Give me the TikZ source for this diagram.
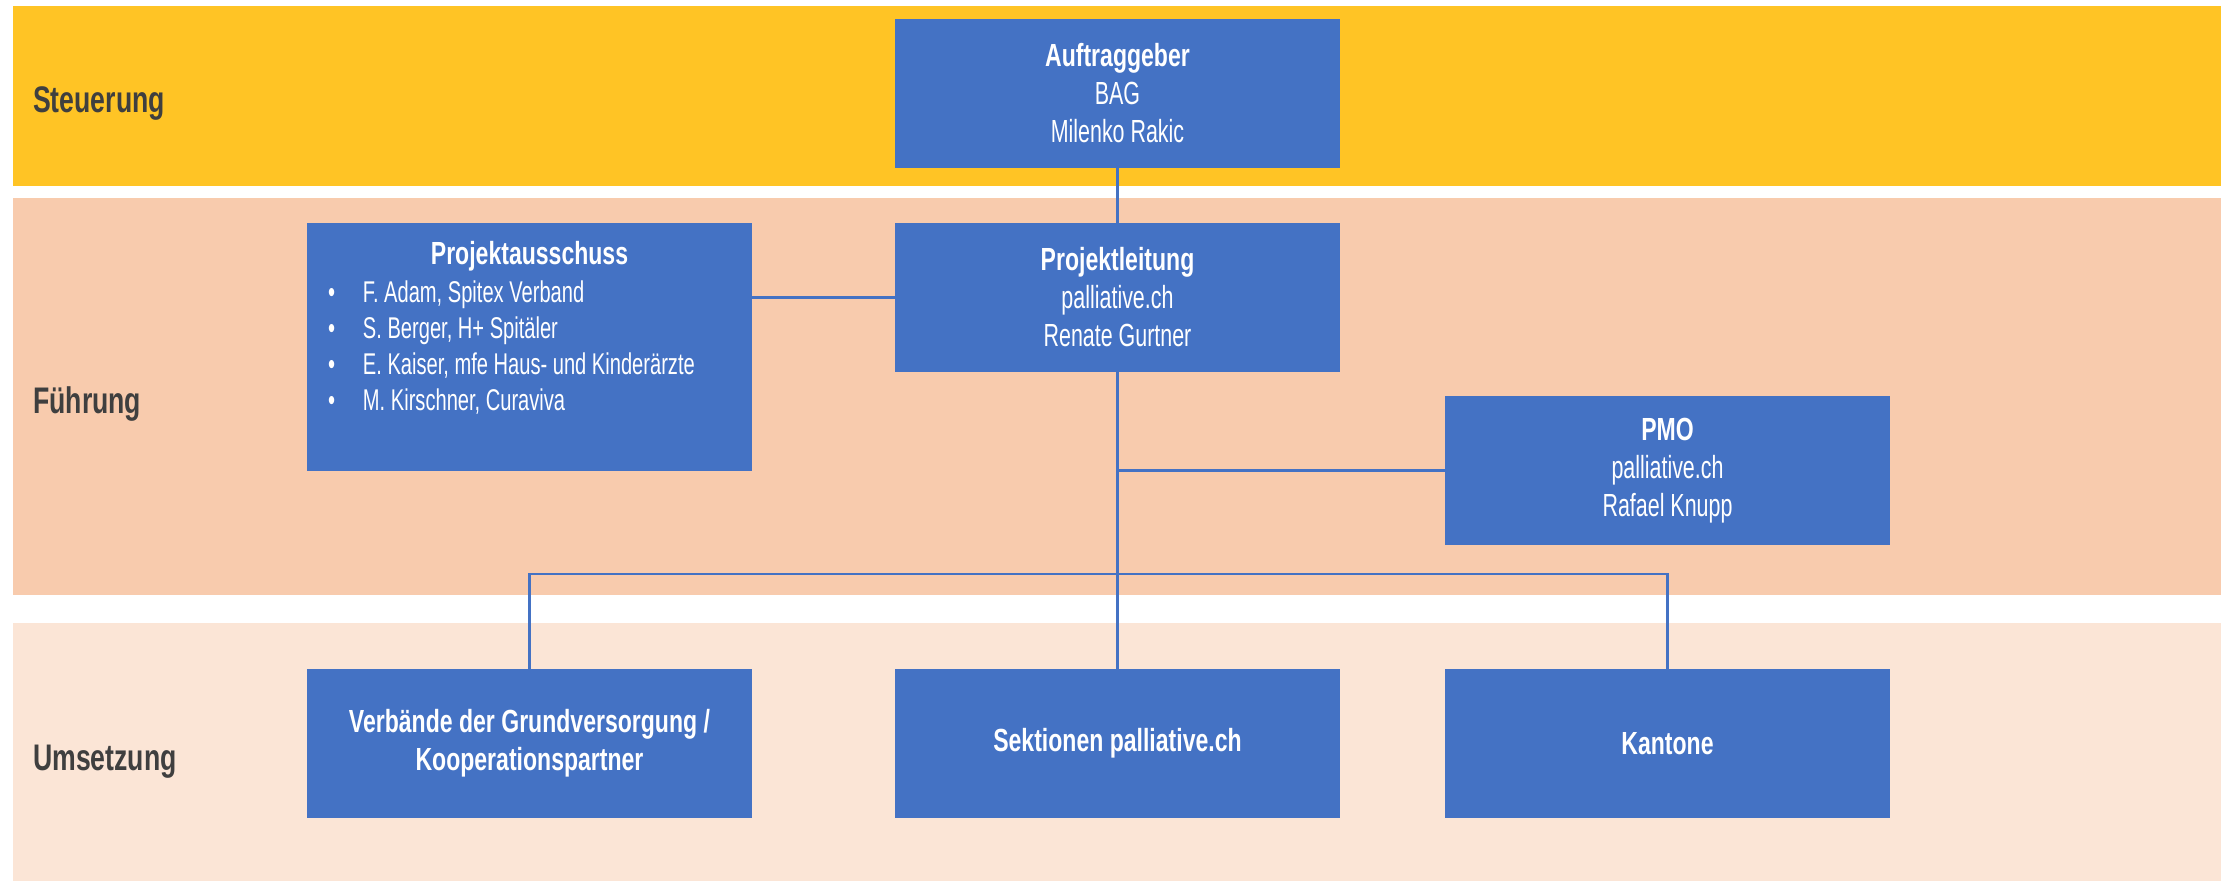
\documentclass[tikz,border=0pt]{standalone}
\usepackage{fontspec}
\setmainfont{Liberation Sans}[FakeStretch=0.67]
\newfontfamily\headfont{Liberation Sans}[FakeStretch=0.72]
\usepackage{tikz}
\usetikzlibrary{positioning}

\definecolor{gold}{HTML}{FFC425}
\definecolor{peach}{HTML}{F8CBAD}
\definecolor{cream}{HTML}{FBE5D6}
\definecolor{orgblue}{HTML}{4472C4}
\definecolor{lanegray}{HTML}{3F3F3F}

\newcommand{\orgtitle}[1]{{\headfont\bfseries #1}}
\newcommand{\pabullet}{\makebox[35pt][l]{\textbullet}}

\begin{document}
\begin{tikzpicture}[x=1pt, y=-1pt, on grid,
        orgbox/.style={rectangle, fill=orgblue, text=white, minimum width=445pt, minimum height=149pt, inner sep=0pt, align=center, font=\fontsize{32}{38}\selectfont},
        lane/.style={anchor=west, inner sep=0pt, text=lanegray, font=\headfont\bfseries\fontsize{37}{44}\selectfont},
        link/.style={draw=orgblue, line width=2.5pt}]
        \useasboundingbox (0,0) rectangle (2233,881);
        % Define the lanes
        \fill[gold] (13,6) rectangle (2221,186);
        \fill[peach] (13,198) rectangle (2221,595);
        \fill[cream] (13,623) rectangle (2221,881);
        \node[lane] (steuerung) at (33,104) {Steuerung};
        \node[lane] (fuehrung) at (33,404) {Führung};
        \node[lane] (umsetzung) at (33,762) {Umsetzung};
        % Define the nodes
        \node[orgbox] (ag) at (1117.5,93.5) {\orgtitle{Auftraggeber}\\BAG\\Milenko Rakic};
        \node[orgbox] (pl) [below=204pt of ag] {\orgtitle{Projektleitung}\\palliative.ch\\Renate Gurtner};
        \node[orgbox] (sk) [below=446pt of pl] {\orgtitle{Sektionen palliative.ch}};
        \node[orgbox] (vb) [left=588pt of sk] {\orgtitle{Verbände der Grundversorgung /}\\\orgtitle{Kooperationspartner}};
        \node[orgbox] (kt) [right=550pt of sk] {\orgtitle{Kantone}};
        \node[orgbox] (pmo) [above=273pt of kt] {\orgtitle{PMO}\\palliative.ch\\Rafael Knupp};
        \node[orgbox, minimum height=248pt] (pa) [above=396.5pt of vb] {};
        \node[anchor=north west, inner sep=0pt, align=left, text=white, font=\fontsize{30}{36}\selectfont] (pa_list) at ([xshift=21pt, yshift=-18pt]pa.north west)
            {\makebox[403pt][c]{\fontsize{32}{38}\selectfont\orgtitle{Projektausschuss}}\\[2pt]
            \pabullet F. Adam, Spitex Verband\\
            \pabullet S. Berger, H+ Spitäler\\
            \pabullet E. Kaiser, mfe Haus- und Kinderärzte\\
            \pabullet M. Kirschner, Curaviva};
        % Define the connections
        \coordinate (fork) at (pl.south |- 0,574);
        \draw[link] (ag) -- (pl);
        \draw[link] (pa.east |- pl.west) -- (pl.west);
        \draw[link] (pl) -- (sk);
        \draw[link] (pl.south |- pmo.west) -- (pmo.west);
        \draw[link] (vb.north) |- (fork) -| (kt.north);
    \end{tikzpicture}
\end{document}
